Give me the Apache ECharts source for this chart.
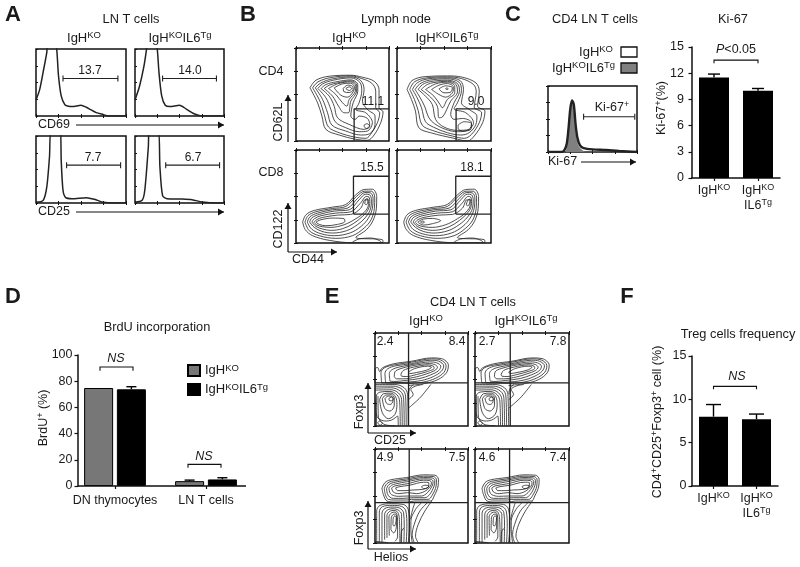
<!DOCTYPE html>
<html><head><meta charset="utf-8">
<style>html,body{margin:0;padding:0;background:#fff}#c{width:800px;height:567px}</style>
<script src="https://cdn.jsdelivr.net/npm/echarts@6/dist/echarts.min.js"></script>
</head><body><div id="c"></div>
<script>
// ---------- bar data ----------
const ki67Cats = ['IgHKO', 'IgHKOIL6Tg'];
const ki67Vals = [11.5, 10.0];
const ki67Errs = [0.4, 0.25];
const tregCats = ['IgHKO', 'IgHKOIL6Tg'];
const tregVals = [8.0, 7.7];
const tregErrs = [1.4, 0.6];
const brduCats = ['DN thymocytes', 'LN T cells'];
const brduKO = [74.8, 3.7];
const brduKOErr = [0, 0.8];
const brduTg = [73.8, 5.0];
const brduTgErr = [2.0, 1.3];
// ---------- histograms (percent of panel) ----------
const histCD69KO = [[0,24],[4,39],[8,66],[12,95],[13,110],[21,110],[23,100],[25,60],[28,30],[32,17],[35,15],[40,14],[50,16],[56,13],[60,10],[67,5],[75,2],[80,0],[100,0]];
const histCD69Tg = [[0,24],[5,44],[10,74],[13,100],[14,110],[23,110],[25,100],[27,64],[30,30],[34,16],[39,14],[50,16],[58,10],[67,3],[76,0],[100,0]];
const histCD25KO = [[0,1],[8,4],[12,24],[15,69],[17,110],[27,110],[28,64],[30,19],[33,8],[40,6.5],[56,8],[65,5.5],[75,1],[86,0],[100,0]];
const histCD25Tg = [[0,1],[8,4],[11,19],[15,84],[16,110],[26,110],[28,54],[31,11],[36,6.5],[51,6],[64,5],[75,1.5],[84,0.5],[100,0]];
const histKi67KO = [[0,0],[14,0],[18,2],[21,12],[23,35],[25,65],[27,78],[29,72],[31,42],[33,22],[36,10],[40,6],[50,4],[65,3],[80,1.5],[100,0]];
const histKi67Tg = [[0,0],[19,0],[22,20],[24,50],[27,75],[29,60],[31,30],[34,10],[38,3],[42,0],[100,0]];
// ---------- contours (cytometry channel, 0-280, y downward) ----------
const cd4KO = [
[[42,120],[60,97],[100,85],[165,82],[200,88],[235,100],[250,125],[250,180],[262,192],[255,225],[235,262],[215,278],[180,275],[130,262],[90,245],[78,205],[65,165],[42,120]],
[[50,120],[66,102],[105,89],[165,84],[198,92],[228,106],[240,130],[240,180],[252,195],[245,225],[228,255],[210,272],[175,268],[130,255],[98,238],[85,200],[72,160],[50,120]],
[[58,120],[75,105],[110,93],[165,87],[195,98],[205,125],[200,160],[215,185],[238,205],[238,230],[222,258],[195,262],[150,250],[108,232],[95,195],[80,155],[58,120]],
[[66,122],[80,108],[112,97],[165,90],[192,103],[198,128],[190,165],[180,185],[210,195],[230,225],[215,250],[190,252],[150,240],[118,222],[105,185],[90,150],[66,122]],
[[75,122],[90,110],[120,102],[165,96],[186,110],[186,130],[172,165],[165,205],[178,215],[190,205],[215,212],[222,232],[205,245],[160,230],[125,210],[115,175],[100,145],[75,122]],
[[85,122],[100,112],[125,105],[165,99],[183,112],[182,132],[165,160],[158,195],[145,195],[128,175],[110,145],[85,122]],
[[98,122],[125,108],[165,102],[180,115],[178,132],[160,155],[153,175],[140,165],[120,140],[98,122]],
[[115,120],[140,108],[165,106],[176,118],[172,132],[155,148],[135,142],[115,120]],
[[142,122],[155,112],[170,115],[172,125],[160,134],[145,132],[142,122]],
[[150,122],[160,117],[168,122],[160,128],[150,122]],
[[205,232],[214,228],[222,236],[214,243],[206,238],[205,232]]
];
const cd4Tg = [
[[30,125],[45,98],[85,86],[150,84],[195,88],[235,105],[245,130],[240,175],[262,190],[255,225],[230,265],[210,280],[170,272],[100,255],[65,240],[55,190],[45,160],[30,125]],
[[38,125],[52,102],[88,90],[150,87],[192,92],[228,110],[236,132],[230,178],[252,195],[245,225],[222,260],[200,272],[165,265],[105,248],[75,232],[63,188],[52,155],[38,125]],
[[46,125],[60,105],[92,93],[150,90],[188,98],[198,125],[192,165],[215,185],[238,205],[235,230],[215,255],[190,262],[150,255],[108,238],[85,222],[73,180],[60,150],[46,125]],
[[54,125],[68,108],[96,97],[150,93],[185,103],[192,128],[180,165],[170,183],[205,195],[228,225],[210,248],[180,252],[145,245],[112,228],[95,210],[82,175],[68,148],[54,125]],
[[63,125],[76,110],[100,101],[150,97],[180,107],[186,130],[170,165],[160,200],[170,215],[195,212],[222,225],[215,245],[180,248],[140,238],[115,215],[105,170],[85,145],[63,125]],
[[72,125],[90,110],[110,104],[150,100],[176,110],[180,132],[160,160],[135,208],[125,210],[120,175],[100,148],[72,125]],
[[85,125],[115,108],[150,103],[172,115],[172,135],[150,155],[135,180],[128,170],[110,145],[85,125]],
[[103,125],[125,112],[150,107],[168,118],[165,135],[145,148],[125,140],[103,125]],
[[125,123],[145,114],[165,120],[158,134],[140,135],[125,123]],
[[145,122],[150,120],[152,124],[147,125],[145,122]],
[[182,232],[200,222],[222,228],[220,245],[195,250],[182,242],[182,232]]
];
const cd8Outer = [
[[20,217],[30,195],[55,182],[110,172],[150,164],[180,135],[205,119],[230,118],[243,140],[242,175],[232,212],[212,240],[180,263],[260,270],[262,279],[170,279],[100,272],[50,258],[28,240],[20,217]],
[[27,217],[36,198],[60,186],[110,176],[150,170],[182,140],[207,124],[227,124],[237,142],[236,175],[226,210],[205,235],[170,258],[120,266],[70,258],[40,243],[27,217]],
[[34,217],[42,201],[65,190],[110,180],[155,175],[186,145],[208,128],[224,129],[232,145],[230,175],[218,205],[196,230],[162,250],[115,258],[75,252],[47,238],[34,217]],
[[41,217],[48,204],[70,194],[115,184],[160,180],[190,150],[210,133],[222,135],[227,150],[225,175],[210,202],[185,225],[152,243],[110,250],[78,245],[55,233],[41,217]],
[[48,217],[55,207],[75,198],[120,190],[165,186],[194,160],[212,140],[220,142],[222,155],[218,178],[200,200],[172,222],[140,237],[105,242],[80,238],[60,230],[48,217]],
[[54,218],[62,210],[80,203],[125,196],[165,194],[195,175],[208,150],[218,150],[218,165],[205,188],[180,207],[145,225],[105,233],[80,231],[63,226],[54,218]],
[[170,277],[190,268],[225,265],[250,272],[258,279]]
];
const cd8KOInner = [
[[60,217],[75,210],[110,205],[145,207],[147,215],[125,224],[90,228],[70,224],[60,217]],
[[207,162],[211,147],[216,147],[216,158],[211,165],[207,162]]
];
const cd8TgInner = [
[[62,217],[78,208],[105,206],[130,213],[105,222],[78,226],[62,217]],
[[70,217],[76,214],[82,217],[76,220],[70,217]],
[[206,165],[212,150],[218,148],[217,158],[211,168],[206,165]]
];
const cd25Upper = [
[[0,150],[0,108],[8,104],[14,116],[22,105],[55,93],[110,85],[170,75],[200,77],[221,97],[215,120],[190,140],[150,152],[100,158]],
[[20,150],[18,120],[28,105],[58,96],[110,88],[170,78],[197,81],[214,98],[208,118],[183,136],[145,148],[100,152],[40,150],[20,150]],
[[32,150],[30,122],[38,108],[62,99],[110,92],[168,82],[192,85],[207,99],[200,115],[176,131],[140,143],[95,148],[45,150],[32,150]],
[[45,145],[43,122],[52,110],[75,102],[112,95],[166,87],[186,90],[198,100],[192,113],[168,126],[135,137],[90,143],[60,146],[45,145]],
[[58,132],[60,117],[78,107],[115,98],[164,92],[180,95],[188,103],[180,113],[155,123],[125,132],[85,138],[65,138],[58,132]],
[[78,125],[85,113],[115,103],[160,96],[176,100],[178,106],[158,116],[125,125],[95,131],[80,130],[78,125]],
[[100,118],[120,107],[158,100],[170,103],[155,112],[125,119],[105,122],[100,118]],
[[101,226],[125,205],[140,190],[168,155]],
[[101,200],[115,185],[108,170],[122,160],[145,155]],
[[101,185],[103,170],[115,155]]
];
const cd25Lower = [
[[0,155],[60,155],[88,165],[98,185],[100,279]],
[[0,160],[55,160],[82,170],[92,190],[94,279]],
[[0,166],[50,165],[76,175],[86,195],[88,279]],
[[0,172],[48,171],[70,180],[80,200],[82,279]],
[[4,279],[4,190],[15,178],[45,176],[66,186],[74,205],[76,279]],
[[14,200],[25,183],[48,181],[62,192],[66,215],[60,245],[40,258],[22,240],[14,200]],
[[22,198],[32,187],[50,186],[58,196],[58,218],[45,235],[30,228],[22,198]],
[[30,197],[40,190],[52,192],[54,205],[46,215],[35,212],[30,197]],
[[42,197],[50,193],[56,198],[50,204],[43,203],[42,197]],
[[8,270],[14,265],[22,272],[15,278],[8,270]],
[[70,279],[68,250],[50,262],[30,265],[8,255],[4,240]],
[[2,200],[3,279]],
[[9,190],[10,250],[30,276],[60,279]]
];
const heliosUpper = [
[[21,117],[30,100],[46,92],[95,85],[146,77],[180,78],[191,90],[190,110],[178,140],[168,155],[120,155],[96,158],[60,158],[36,155],[25,135],[21,117]],
[[28,117],[36,103],[50,96],[95,89],[146,81],[176,82],[185,92],[184,110],[172,138],[160,150],[110,150],[96,152],[60,152],[40,150],[31,135],[28,117]],
[[35,117],[42,106],[55,100],[95,93],[146,85],[172,86],[180,94],[178,110],[165,135],[150,145],[115,145],[85,147],[55,147],[44,143],[37,132],[35,117]],
[[42,116],[50,108],[62,104],[98,97],[146,89],[168,90],[175,97],[172,110],[158,130],[140,140],[100,140],[70,141],[50,136],[44,128],[42,116]],
[[50,116],[60,110],[100,103],[146,93],[164,94],[170,100],[166,112],[150,126],[125,133],[98,130],[72,133],[55,128],[50,116]],
[[62,116],[75,112],[104,108],[146,99],[162,100],[162,110],[145,120],[115,122],[90,124],[68,124],[62,116]],
[[140,112],[150,108],[162,110],[158,116],[146,118],[140,112]],
[[171,155],[150,185],[130,225],[122,260],[130,279]],
[[160,158],[135,185],[118,225],[112,255],[118,279]],
[[140,160],[122,180],[108,215],[108,240],[112,279]],
[[120,160],[112,185],[106,210]]
];
const heliosLower = [
[[5,279],[5,185],[15,168],[50,163],[85,165],[100,180],[104,230],[100,279]],
[[13,279],[13,188],[22,172],[52,168],[80,171],[93,185],[96,230],[94,279]],
[[21,279],[21,192],[30,177],[54,173],[74,176],[86,190],[88,230],[87,279]],
[[29,270],[29,195],[37,182],[56,178],[70,182],[80,195],[80,279]],
[[36,265],[36,198],[44,186],[58,183],[68,188],[73,205],[75,279]],
[[43,258],[42,202],[50,190],[60,188],[66,195],[68,215],[68,262],[60,275]],
[[48,240],[49,205],[55,195],[62,194],[65,205],[64,235],[56,250],[48,240]],
[[54,225],[55,205],[60,199],[64,205],[62,222],[57,230],[54,225]],
[[0,275],[40,279]],
[[78,279],[80,245],[88,235]]
];

// ---------- helpers ----------
const FONT = '"Liberation Sans", Arial, sans-serif';
const INK = '#1a1a1a';
const rich = {
  a:{fontSize:12.5,fontFamily:FONT,fill:INK,color:INK,lineHeight:15},
  s:{fontSize:9,fontFamily:FONT,fill:INK,color:INK,lineHeight:10,verticalAlign:'top'},
  h:{fontSize:13,fontFamily:FONT,fill:INK,color:INK,lineHeight:15},
  t:{fontSize:9.5,fontFamily:FONT,fill:INK,color:INK,lineHeight:10,verticalAlign:'top'},
  i:{fontSize:12.5,fontFamily:FONT,fontStyle:'italic',fill:INK,color:INK,lineHeight:15}
};
const KO = '{h|IgH}{t|KO}', KOTG = '{h|IgH}{t|KO}{h|IL6}{t|Tg}';
const grid=[],xAxis=[],yAxis=[],series=[],graphic=[];

function txt(x,y,text,o){o=o||{};
  graphic.push({type:'text',x,y,rotation:o.rot||0,silent:true,z:50,style:{text,rich,align:o.align||'center',verticalAlign:'middle',
    fontSize:o.size||12.5,fontFamily:FONT,fontWeight:o.weight||'normal',fontStyle:o.italic?'italic':'normal',fill:INK}});
}
function seg(x1,y1,x2,y2,w){graphic.push({type:'line',silent:true,z:40,shape:{x1,y1,x2,y2},style:{stroke:'#111',lineWidth:w||1.2}});}
function arrow(x1,y1,x2,y2){
  seg(x1,y1,x2,y2,1.2);
  const h=[];
  if(y1===y2) h.push([x2,y2],[x2-6,y2-3.5],[x2-6,y2+3.5]); else h.push([x2,y2],[x2-3.5,y2+6],[x2+3.5,y2+6]);
  graphic.push({type:'polygon',silent:true,z:40,shape:{points:h},style:{fill:'#111'}});
}
function panel(x,y,w,h,max,inv,ticksLeft){
  const g=grid.length;
  grid.push({left:x,top:y,width:w,height:h,show:true,borderColor:'#111',borderWidth:1.5,backgroundColor:'transparent'});
  const mk=(pos,show)=>({gridIndex:g,type:'value',position:pos,min:0,max,interval:max/4,inverse:(pos==='left'||pos==='right')&&inv,
    axisLine:{show:false},axisLabel:{show:false},splitLine:{show:false},axisTick:{show,length:2,lineStyle:{color:'#111',width:1}}});
  const xi=xAxis.length, yi=yAxis.length;
  xAxis.push(mk('top',true),mk('bottom',true));
  yAxis.push(mk('left',ticksLeft),mk('right',true));
  return {xAxisIndex:xi,yAxisIndex:yi};
}
function lines(ax,loops,w,smooth){
  loops.forEach(l=>series.push(Object.assign({type:'line',data:l,symbol:'none',smooth:smooth===undefined?0.35:smooth,silent:true,
    lineStyle:{color:'#222',width:w||0.8},animation:false},ax)));
}
function gate(ax,x0,x1,y){
  series.push(Object.assign({type:'custom',silent:true,animation:false,data:[[x0,y,x1]],encode:{x:[0,2],y:1},
    renderItem(p,api){const a=api.coord([api.value(0),api.value(1)]),b=api.coord([api.value(2),api.value(1)]);
      const st={stroke:'#222',lineWidth:1.1,fill:null};
      return {type:'group',children:[[a[0],a[1],b[0],b[1]],[a[0],a[1]-3,a[0],a[1]+3],[b[0],b[1]-3,b[0],b[1]+3]].map(s=>({type:'line',shape:{x1:s[0],y1:s[1],x2:s[2],y2:s[3]},style:st}))};
    }},ax));
}
function histo(x,y,w,h,data,g0,g1,gy,ticksLeft){
  const ax=panel(x,y,w,h,100,false,ticksLeft);
  lines(ax,[data],1.5,0.25);
  gate(ax,g0,g1,gy);
}
function barGrid(x,y,w,h,cats,max,interval,labelFn,opt){
  opt=opt||{};
  const g=grid.length;
  grid.push({left:x,top:y,width:w,height:h});
  const xi=xAxis.length, yi=yAxis.length;
  xAxis.push({gridIndex:g,type:'category',data:cats,axisLine:{show:opt.yOffset===undefined,lineStyle:{color:'#111',width:1.5}},
    axisTick:{show:true,length:3,alignWithLabel:true,lineStyle:{color:'#111',width:1.2}},
    axisLabel:{interval:0,margin:opt.xMargin||5,color:INK,fontFamily:FONT,fontSize:12.5,lineHeight:15,formatter:labelFn,rich}});
  yAxis.push({gridIndex:g,type:'value',min:0,max,interval,offset:opt.yOffset||0,splitLine:{show:false},
    axisLine:{show:true,lineStyle:{color:'#111',width:1.5}},axisTick:{show:true,length:3.5,lineStyle:{color:'#111',width:1.2}},
    axisLabel:{margin:opt.yMargin||5.5,color:INK,fontFamily:FONT,fontSize:12.5}});
  return {xAxisIndex:xi,yAxisIndex:yi};
}
function errBars(ax,vals,errs,off,cap){
  series.push(Object.assign({type:'custom',silent:true,animation:false,z:5,data:vals.map((v,i)=>[i,v,v+errs[i]]),encode:{x:0,y:[1,2]},
    renderItem(p,api){
      if(api.value(2)===api.value(1)) return;
      const a=api.coord([api.value(0),api.value(1)]),b=api.coord([api.value(0),api.value(2)]);
      const st={stroke:'#000',lineWidth:1.4,fill:null}, X=a[0]+off;
      return {type:'group',children:[{type:'line',shape:{x1:X,y1:a[1],x2:X,y2:b[1]},style:st},{type:'line',shape:{x1:X-cap,y1:b[1],x2:X+cap,y2:b[1]},style:st}]};
    }},ax));
}
function bracket(ax,catA,offA,catB,offB,top,bottom){
  series.push(Object.assign({type:'custom',silent:true,animation:false,z:5,data:[[catA,top,catB,bottom]],encode:{x:[0,2],y:[1,3]},
    renderItem(p,api){
      const a=api.coord([api.value(0),api.value(1)]),b=api.coord([api.value(2),api.value(1)]),c=api.coord([api.value(0),api.value(3)]);
      const xa=a[0]+offA,xb=b[0]+offB;
      return {type:'polyline',shape:{points:[[xa,c[1]],[xa,a[1]],[xb,a[1]],[xb,c[1]]]},style:{stroke:'#111',lineWidth:1.1,fill:null}};
    }},ax));
}
const stackLabel = v => v==='IgHKO' ? '{a|IgH}{s|KO}' : '{a|IgH}{s|KO}\n{a|IL6}{s|Tg}';
const TITLE = 12.8;

// ---------- Panel A ----------
histo(36,49,90,67,histCD69KO,30,91,56,false);
histo(135,49,89,67,histCD69Tg,31,91.5,56,false);
histo(36,136,90,67,histCD25KO,34,94,56.5,false);
histo(135,136,89,67,histCD25Tg,34.5,95,56.5,false);
txt(13,15,'A',{size:22,weight:'bold'});
txt(131,19,'LN T cells',{size:TITLE});
txt(84,38,KO); txt(180,38,KOTG);
txt(90,71,'13.7',{size:12}); txt(190,71,'14.0',{size:12}); txt(93,158,'7.7',{size:12}); txt(193,158,'6.7',{size:12});
txt(38,125,'CD69',{align:'left'}); txt(38,212,'CD25',{align:'left'});
arrow(76,125,224,125); arrow(76,212,224,212);

// ---------- Panel B ----------
function cont(rect,sets,quad){
  const ax=panel(rect[0],rect[1],rect[2],rect[3],280,true,true);
  sets.forEach(s=>lines(ax,s));
  lines(ax,quad,1.3,false);
}
cont([296,48,93,93],[cd4KO],[[[175,280],[175,183],[280,183]]]);
cont([397,48,94,93],[cd4Tg],[[[176,280],[176,183],[280,183]]]);
cont([296,150,93,93],[cd8Outer,cd8KOInner],[[[173,193],[173,79],[280,79]],[[173,193],[280,193]]]);
cont([397,150,94,93],[cd8Outer,cd8TgInner],[[[175,193],[175,79],[280,79]],[[175,193],[280,193]]]);
txt(248,15,'B',{size:22,weight:'bold'});
txt(396,19,'Lymph node',{size:TITLE}); txt(349,38,KO); txt(447,38,KOTG);
txt(271,72,'CD4'); txt(271,173,'CD8');
txt(373,102,'11.1',{size:12}); txt(476,102,'9.0',{size:12}); txt(372,168,'15.5',{size:12}); txt(472,168,'18.1',{size:12});
txt(279,122,'CD62L',{rot:Math.PI/2}); txt(279,229,'CD122',{rot:Math.PI/2}); txt(308,260,'CD44');
arrow(288,142,288,95); arrow(288,252,288,203); arrow(288,252,337,252);

// ---------- Panel C ----------
const axK=panel(548,86,89,66,100,false,true);
series.push(Object.assign({type:'line',data:histKi67Tg,symbol:'none',smooth:0.25,silent:true,animation:false,lineStyle:{color:'#808080',width:0.6},areaStyle:{color:'#808080',opacity:1}},axK));
lines(axK,[histKi67KO],2.4,0.25);
gate(axK,40,97.5,53.5);
txt(513,15,'C',{size:22,weight:'bold'});
txt(595,19,'CD4 LN T cells',{size:TITLE}); txt(733,19,'Ki-67',{size:TITLE});
txt(613,52,KO,{align:'right'}); txt(615,68,KOTG,{align:'right'});
graphic.push({type:'rect',silent:true,z:40,shape:{x:621,y:47,width:16,height:10},style:{fill:'#fff',stroke:'#111',lineWidth:1.3}});
graphic.push({type:'rect',silent:true,z:40,shape:{x:621,y:63,width:16,height:10},style:{fill:'#808080',stroke:'#111',lineWidth:1.3}});
txt(612,108,'{a|Ki-67}{s|+}');
txt(548,162,'Ki-67',{align:'left'}); arrow(581,162,636,162);
const axC=barGrid(692,47,88,131,ki67Cats,15,3,stackLabel,{yMargin:8});
series.push(Object.assign({type:'bar',data:ki67Vals,barWidth:30,itemStyle:{color:'#000'},animation:false,silent:true},axC));
errBars(axC,ki67Vals,ki67Errs,0,6);
bracket(axC,0,0,1,0,13.5,13.15);
txt(736,50,'{i|P}{a|<0.05}');
txt(662,108,'{a|Ki-67}{s|+}{a|(%)}',{rot:Math.PI/2});

// ---------- Panel D ----------
const axD=barGrid(69.5,355,182,131,brduCats,100,20,v=>'{a|'+v+'}',{yOffset:-8.5,xMargin:7});
series.push(Object.assign({type:'bar',name:'IgHKO',data:brduKO,barWidth:29,barGap:'13%',itemStyle:{color:'#777',borderColor:'#000',borderWidth:1},animation:false,silent:true},axD));
series.push(Object.assign({type:'bar',name:'IgHKOIL6Tg',data:brduTg,barWidth:29,itemStyle:{color:'#000',borderColor:'#000',borderWidth:1},animation:false,silent:true},axD));
errBars(axD,brduKO,brduKOErr,-16.4,5);
errBars(axD,brduTg,brduTgErr,16.4,5);
bracket(axD,0,-15,0,18,90.8,88);
bracket(axD,1,-18,1,15,16.5,14);
seg(78,486,246,486,1.5);
txt(13,297,'D',{size:22,weight:'bold'});
txt(157,327,'BrdU incorporation',{size:TITLE});
txt(44,418,'{a|BrdU}{s|+}{a| (%)}',{rot:Math.PI/2});
txt(116,359,'{i|NS}'); txt(204,457,'{i|NS}');

// ---------- Panel E ----------
cont([375,333,93,93],[cd25Upper,cd25Lower],[[[101,0],[101,280]],[[0,150],[280,150]]]);
cont([475,333,94,93],[cd25Upper,cd25Lower],[[[105,0],[105,280]],[[0,150],[280,150]]]);
cont([375,449,93,94],[heliosUpper,heliosLower],[[[103,0],[103,280]],[[0,160],[280,160]]]);
cont([475,449,94,94],[heliosUpper,heliosLower],[[[103,0],[103,280]],[[0,160],[280,160]]]);
txt(332,297,'E',{size:22,weight:'bold'});
txt(473,302,'CD4 LN T cells',{size:TITLE}); txt(426,321,KO); txt(526,321,KOTG);
[[385,342,'2.4'],[457,342,'8.4'],[487,342,'2.7'],[558,342,'7.8'],[385,458,'4.9'],[457,458,'7.5'],[487,458,'4.6'],[558,458,'7.4']].forEach(a=>txt(a[0],a[1],a[2],{size:12}));
txt(360,412,'Foxp3',{rot:Math.PI/2}); txt(390,441,'CD25');
txt(360,528,'Foxp3',{rot:Math.PI/2}); txt(391,558,'Helios');
arrow(368,433,368,383); arrow(368,433,416,433);
arrow(368,549,368,501); arrow(368,549,416,549);

// ---------- Panel F ----------
const axF=barGrid(692,356,86,130,tregCats,15,5,stackLabel);
series.push(Object.assign({type:'bar',data:tregVals,barWidth:29,itemStyle:{color:'#000'},animation:false,silent:true},axF));
errBars(axF,tregVals,tregErrs,0,7.5);
bracket(axF,0,0,1,0,11.5,11.15);
txt(627,297,'F',{size:22,weight:'bold'});
txt(738,334,'Treg cells frequency',{size:TITLE});
txt(737,377,'{i|NS}');
txt(658,422,'{a|CD4}{s|+}{a|CD25}{s|+}{a|Foxp3}{s|+}{a| cell (%)}',{rot:Math.PI/2});

const chart=echarts.init(document.getElementById('c'),null,{renderer:'canvas'});
chart.setOption({
  animation:false,backgroundColor:'#fff',grid,xAxis,yAxis,series,graphic,
  legend:{data:['IgHKO','IgHKOIL6Tg'],orient:'vertical',left:187,top:363,padding:0,itemWidth:12,itemHeight:11,itemGap:5,icon:'rect',selectedMode:false,
    formatter:n=>n==='IgHKO'?KO:KOTG,textStyle:{rich,fontFamily:FONT,fontSize:13,color:INK}}
});
</script></body></html>
